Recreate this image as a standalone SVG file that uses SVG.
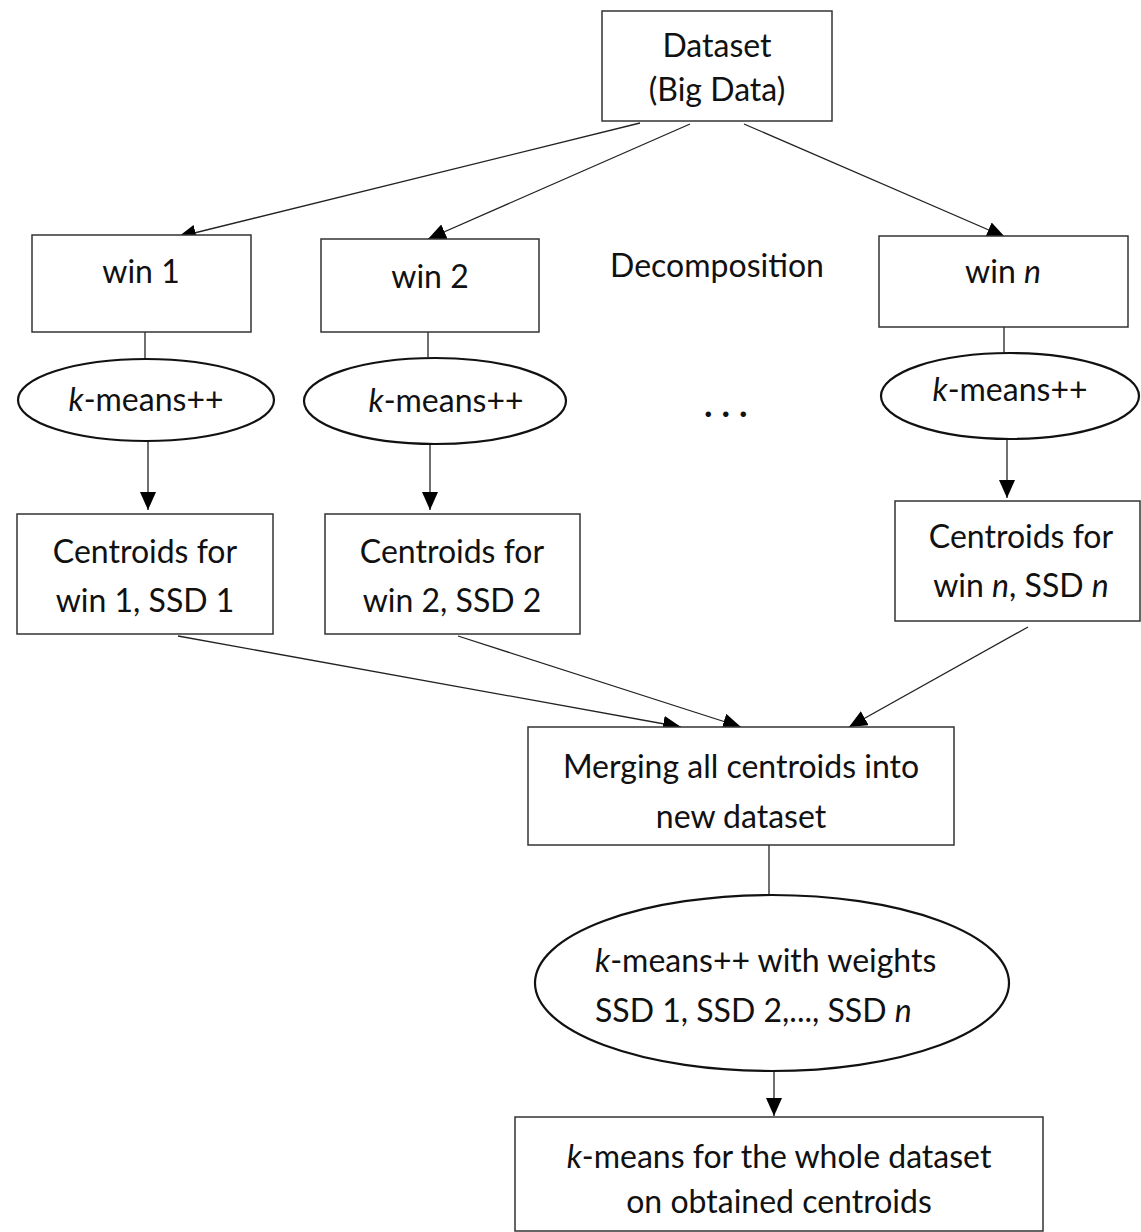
<svg xmlns="http://www.w3.org/2000/svg" width="1141" height="1232" viewBox="0 0 1141 1232">
<style>
  .box { fill: #fff; stroke: #333; stroke-width: 1.5; }
  .ell { fill: #fff; stroke: #111; stroke-width: 2.2; }
  .t { font-family: Lato, "Open Sans", sans-serif; font-size: 32px; fill: #111; text-anchor: middle; }
  .ts { font-family: Lato, "Open Sans", sans-serif; font-size: 32px; fill: #111; text-anchor: start; }
  .i { font-style: italic; }
  .c { stroke: #222; stroke-width: 1.3; fill: none; }
  .ca { stroke: #222; stroke-width: 1.3; fill: none; marker-end: url(#ah); }
</style>
<defs>
  <marker id="ah" markerUnits="userSpaceOnUse" markerWidth="19" markerHeight="17" refX="18" refY="8" orient="auto">
    <path d="M0,0 L18,8 L0,16 z" fill="#000"/>
  </marker>
</defs>
<rect width="1141" height="1232" fill="#fff"/>

<g id="connectors">
  <line class="ca" x1="640" y1="123" x2="178" y2="237"/>
  <line class="ca" x1="690" y1="124" x2="428" y2="239"/>
  <line class="ca" x1="744" y1="124" x2="1005" y2="237"/>
  <line class="c" x1="145" y1="332" x2="145" y2="358"/>
  <line class="c" x1="428" y1="332" x2="428" y2="357"/>
  <line class="c" x1="1004" y1="327" x2="1004" y2="353"/>
  <line class="ca" x1="148" y1="441" x2="148" y2="510"/>
  <line class="ca" x1="430" y1="444" x2="430" y2="510"/>
  <line class="ca" x1="1007" y1="440" x2="1007" y2="498"/>
  <line class="ca" x1="178" y1="636" x2="681" y2="727"/>
  <line class="ca" x1="458" y1="636" x2="741" y2="727"/>
  <line class="ca" x1="1028" y1="627" x2="849" y2="727"/>
  <line class="c" x1="769" y1="845" x2="769" y2="895"/>
  <line class="ca" x1="774" y1="1071" x2="774" y2="1116"/>
</g>

<g id="dataset">
  <rect class="box" x="602" y="11" width="230" height="110"/>
  <text class="t" x="717" y="57">Dataset</text>
  <text class="t" x="717" y="101">(Big Data)</text>
</g>

<g id="win1">
  <rect class="box" x="32" y="235" width="219" height="97"/>
  <text class="t" x="141" y="283">win 1</text>
</g>
<g id="win2">
  <rect class="box" x="321" y="239" width="218" height="93"/>
  <text class="t" x="430" y="288">win 2</text>
</g>
<g id="decomposition">
  <text class="t" x="717" y="277">Decomposition</text>
</g>
<g id="winn">
  <rect class="box" x="879" y="236" width="249" height="91"/>
  <text class="t" x="1003" y="283">win <tspan class="i">n</tspan></text>
</g>

<g id="kmeans1">
  <ellipse class="ell" cx="146" cy="400" rx="128" ry="41"/>
  <text class="t" x="146" y="411"><tspan class="i">k</tspan>-means++</text>
</g>
<g id="kmeans2">
  <ellipse class="ell" cx="435" cy="401" rx="131" ry="43"/>
  <text class="t" x="446" y="412"><tspan class="i">k</tspan>-means++</text>
</g>
<g id="dots">
  <text class="ts" x="704" y="417" style="font-size:36px; letter-spacing:9px; font-weight:bold">...</text>
</g>
<g id="kmeansn">
  <ellipse class="ell" cx="1010" cy="396" rx="129" ry="43"/>
  <text class="t" x="1010" y="401"><tspan class="i">k</tspan>-means++</text>
</g>

<g id="centroids1">
  <rect class="box" x="17" y="514" width="256" height="120"/>
  <text class="t" x="145" y="563">Centroids for</text>
  <text class="t" x="145" y="612">win 1, SSD 1</text>
</g>
<g id="centroids2">
  <rect class="box" x="325" y="514" width="255" height="120"/>
  <text class="t" x="452" y="563">Centroids for</text>
  <text class="t" x="452" y="612">win 2, SSD 2</text>
</g>
<g id="centroidsn">
  <rect class="box" x="895" y="501" width="245" height="120"/>
  <text class="t" x="1021" y="548">Centroids for</text>
  <text class="t" x="1021" y="597">win <tspan class="i">n</tspan>, SSD <tspan class="i">n</tspan></text>
</g>

<g id="merging">
  <rect class="box" x="528" y="727" width="426" height="118"/>
  <text class="t" x="741" y="778">Merging all centroids into</text>
  <text class="t" x="741" y="828">new dataset</text>
</g>

<g id="weighted">
  <ellipse class="ell" cx="772" cy="983" rx="237" ry="88"/>
  <text class="ts" x="595" y="972"><tspan class="i">k</tspan>-means++ with weights</text>
  <text class="ts" x="595" y="1022">SSD 1, SSD 2,..., SSD <tspan class="i">n</tspan></text>
</g>

<g id="final">
  <rect class="box" x="515" y="1117" width="528" height="114"/>
  <text class="t" x="779" y="1168"><tspan class="i">k</tspan>-means for the whole dataset</text>
  <text class="t" x="779" y="1213">on obtained centroids</text>
</g>
</svg>
